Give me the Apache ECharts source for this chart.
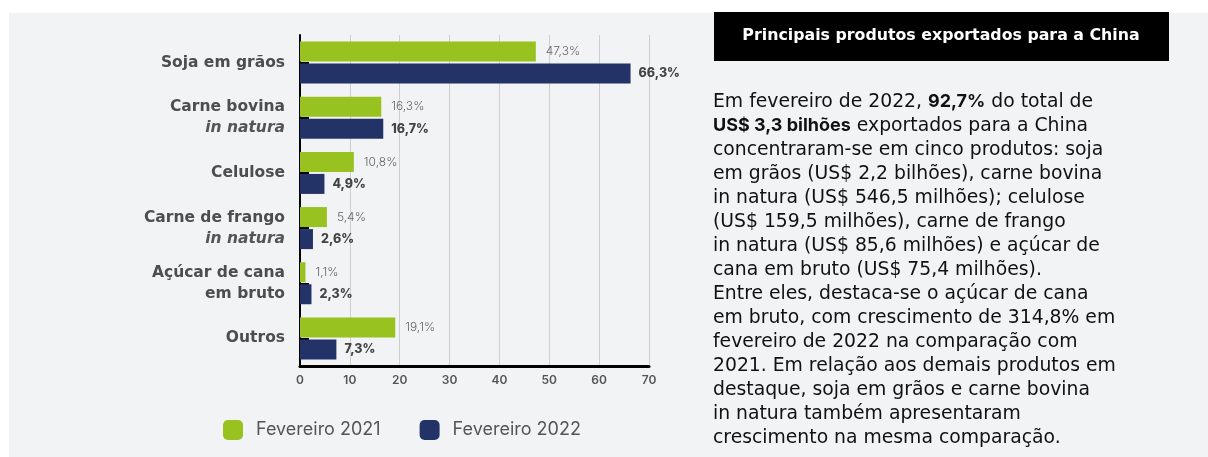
<!DOCTYPE html>
<html>
<head>
<meta charset="utf-8">
<script src="https://cdn.jsdelivr.net/npm/echarts@6/dist/echarts.min.js"></script>
<style>
  body { margin: 0; background: #fff; }
  #chart { width: 1208px; height: 457px; }
</style>
</head>
<body>
<div id="chart"></div>
<script>
// dados
var categories = ['Soja em grãos', 'Carne bovina|in natura', 'Celulose', 'Carne de frango|in natura', 'Açúcar de cana|em bruto', 'Outros'];
var fev2021 = [47.3, 16.3, 10.8, 5.4, 1.1, 19.1];
var fev2022 = [66.3, 16.7, 4.9, 2.6, 2.3, 7.3];
var seriesNames = ['Fevereiro 2021', 'Fevereiro 2022'];
var xTicks = [0, 10, 20, 30, 40, 50, 60, 70];

var FONT = 'Inter, "Noto Sans", sans-serif';
var WIDE = '"DejaVu Sans", Inter, sans-serif';
var GREEN = '#98c21f';
var NAVY = '#233367';

function pct(v) {
  return v.toFixed(1).replace('.', ',') + '%';
}

// rotulos das categorias (2a linha em italico quando for "in natura")
function catLabel(value) {
  var parts = value.split('|');
  if (parts.length === 1) return '{b|' + parts[0] + '}';
  var second = parts[1] === 'in natura' ? '{i|' + parts[1] + '}' : '{b|' + parts[1] + '}';
  return '{b|' + parts[0] + '}\n' + second;
}

var paragraph = [
  '{n|Em fevereiro de 2022, }{b|92,7%}{n| do total de}',
  '{b|US$ 3,3 bilhões}{n| exportados para a China}',
  '{n|concentraram-se em cinco produtos: soja}',
  '{n|em grãos (US$ 2,2 bilhões), carne bovina}',
  '{n|in natura (US$ 546,5 milhões); celulose}',
  '{n|(US$ 159,5 milhões), carne de frango}',
  '{n|in natura (US$ 85,6 milhões) e açúcar de}',
  '{n|cana em bruto (US$ 75,4 milhões).}',
  '{n|Entre eles, destaca-se o açúcar de cana}',
  '{n|em bruto, com crescimento de 314,8% em}',
  '{n|fevereiro de 2022 na comparação com}',
  '{n|2021. Em relação aos demais produtos em}',
  '{n|destaque, soja em grãos e carne bovina}',
  '{n|in natura também apresentaram}',
  '{n|crescimento na mesma comparação.}'
].join('\n');

var myChart = echarts.init(document.getElementById('chart'));

var option = {
  animation: false,
  textStyle: { fontFamily: FONT },
  graphic: [
    { type: 'rect', z: -10, silent: true, shape: { x: 9, y: 13, width: 1199, height: 444 }, style: { fill: '#f2f3f5' } },
    { type: 'rect', z: 10, shape: { x: 714, y: 12, width: 455, height: 49 }, style: { fill: '#000' } },
    {
      type: 'text', z: 11, x: 941, y: 36,
      style: {
        text: 'Principais produtos exportados para a China',
        fill: '#fff', font: 'bold 15.8px ' + WIDE,
        textAlign: 'center', textVerticalAlign: 'middle'
      }
    },
    {
      type: 'text', z: 11, x: 713, y: 90,
      style: {
        text: paragraph,
        fill: '#111',
        textAlign: 'left', textVerticalAlign: 'top',
        rich: {
          n: { fontFamily: WIDE, fontSize: 18.8, fontWeight: 400, color: '#111', lineHeight: 24 },
          b: { fontFamily: FONT, fontSize: 18, fontWeight: 700, color: '#000', lineHeight: 24 }
        }
      }
    }
  ],
  legend: {
    left: 223, top: 420, padding: 0,
    itemWidth: 20, itemHeight: 20, itemGap: 39,
    icon: 'roundRect',
    data: seriesNames,
    textStyle: { fontFamily: FONT, fontSize: 18, color: '#555', padding: [0, 0, 0, 8] }
  },
  grid: { left: 300, top: 35, width: 349, height: 331 },
  xAxis: {
    type: 'value',
    min: 0, max: 70, interval: 10,
    axisLine: { show: true, lineStyle: { color: '#000', width: 3 } },
    axisTick: { show: false },
    splitLine: { lineStyle: { color: '#cfcfcf', width: 1 } },
    axisLabel: {
      margin: 8, fontFamily: FONT, fontSize: 12, fontWeight: 600, color: '#555',
      formatter: function (v) { return xTicks.indexOf(v) >= 0 ? String(v) : ''; }
    }
  },
  yAxis: {
    type: 'category',
    inverse: true,
    data: categories,
    axisLine: { show: true, lineStyle: { color: '#000', width: 2 } },
    axisTick: { show: true, inside: true, alignWithLabel: true, length: 9, lineStyle: { color: '#000', width: 2 } },
    axisLabel: {
      margin: 15,
      formatter: catLabel,
      rich: {
        b: { fontFamily: WIDE, fontSize: 15.5, fontWeight: 'bold', color: '#4d4d4d', lineHeight: 21, align: 'right' },
        i: { fontFamily: WIDE, fontSize: 15.5, fontWeight: 'bold', fontStyle: 'italic', color: '#555', lineHeight: 21, align: 'right' }
      }
    }
  },
  series: [
    {
      name: seriesNames[0], type: 'bar', data: fev2021,
      barWidth: 20, barGap: '10%',
      itemStyle: { color: GREEN },
      label: {
        show: true, position: 'right', distance: 10,
        fontFamily: FONT, fontSize: 12, fontWeight: 300, color: '#666',
        formatter: function (p) { return pct(p.value); }
      }
    },
    {
      name: seriesNames[1], type: 'bar', data: fev2022,
      barWidth: 20,
      itemStyle: { color: NAVY },
      label: {
        show: true, position: 'right', distance: 8,
        fontFamily: FONT, fontSize: 12.5, fontWeight: 800, color: '#444',
        formatter: function (p) { return pct(p.value); }
      }
    }
  ]
};

myChart.setOption(option);
</script>
</body>
</html>
